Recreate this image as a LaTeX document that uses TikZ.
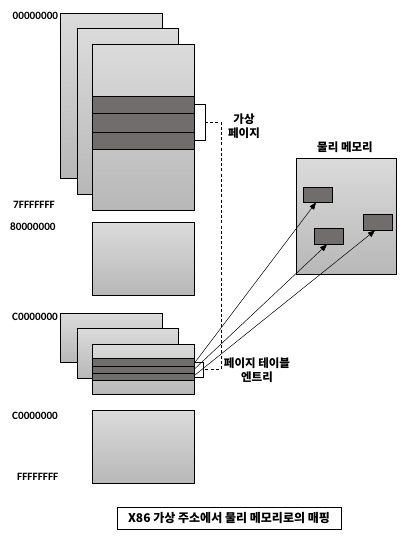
\documentclass[tikz,border=0pt]{standalone}
\usepackage{fontspec}
\setmainfont{Carlito}
\newfontfamily\kr{Noto Sans CJK KR}
\usetikzlibrary{arrows.meta}
\definecolor{darkband}{HTML}{716D6D}
\tikzset{
  page/.style={draw=black, line width=0.9pt, top color=black!14, bottom color=black!28},
  band/.style={draw=black, line width=0.9pt, fill=darkband},
  blk/.style={draw=black, line width=0.9pt, fill=darkband, inner sep=0pt},
  hex/.style={anchor=west, font=\fontsize{11.2}{12}\selectfont\bfseries, inner sep=0pt},
  krlab/.style={font=\kr\fontsize{11.5}{14.5}\selectfont\bfseries, align=center, inner sep=0pt},
  dashline/.style={draw=black, line width=0.8pt, dash pattern=on 3pt off 2.2pt},
  maparrow/.style={draw=black, line width=0.5pt, -{Triangle[length=7pt,width=5.5pt]}}
}
\begin{document}
\begin{tikzpicture}[x=1pt,y=-1pt]
\useasboundingbox (0,0) rectangle (407,541);
% top stack
\draw[page] (60,13) rectangle (162,178);
\draw[page] (77,28) rectangle (178,194);
\draw[page] (92,44) rectangle (194,210);
\draw[band] (92,96) rectangle (194,113);
\draw[band] (92,113) rectangle (194,132);
\draw[band] (92,132) rectangle (194,149);
% bracket
\draw[line width=0.8pt] (194,104) -- (205,104) -- (205,140) -- (194,140);
% 80000000 region
\draw[page] (92,222) rectangle (194,295);
% lower stack
\draw[page] (60,313) rectangle (162,362);
\draw[page] (77,328) rectangle (178,378);
\draw[page] (92,344) rectangle (194,394);
\draw[band] (92,358) rectangle (194,366);
\draw[band] (92,366) rectangle (194,373);
\draw[band] (92,373) rectangle (194,380);
% bottom region
\draw[page] (92,410) rectangle (194,483);
% page table entry box
\node[draw=black, line width=0.7pt, minimum width=9pt, minimum height=15pt, inner sep=0pt] (pte) at (198.5,369.5) {};
% dashed connection
\coordinate (brk) at (205,122);
\coordinate (d1) at (221,122);
\coordinate (d2) at (221,369);
\draw[dashline] (brk) -- (d1) -- (d2) -- (pte.east |- d2);
% physical memory
\node[page, minimum width=100pt, minimum height=116pt, inner sep=0pt] (phys) at (346,216) {};
\node[blk, minimum width=29pt, minimum height=15pt] (b1) at (317.5,194.5) {};
\node[blk, minimum width=29pt, minimum height=16pt] (b2) at (328.5,236) {};
\node[blk, minimum width=29pt, minimum height=16pt] (b3) at (377.5,222) {};
% arrows
\coordinate (o1) at (194.5,363);
\coordinate (o2) at (194.5,369);
\coordinate (o3) at (195,375);
\draw[maparrow] (o1) -- ([xshift=-1.5pt]b1.south);
\draw[maparrow] (o2) -- ([xshift=-1.5pt]b2.south);
\draw[maparrow] (o3) -- ([xshift=-2.5pt]b3.south);
% hex labels
\node[hex] (l1) at (12.5,16) {00000000};
\node[hex] (l2) at (13,205) {7FFFFFFF};
\node[hex] (l3) at (10,227) {80000000};
\node[hex] (l4) at (12,317) {C0000000};
\node[hex] (l5) at (12,416) {C0000000};
\node[hex] (l6) at (17,477) {FFFFFFFF};
% korean labels
\node[krlab] (vp) at (244,126) {가상\\페이지};
\node[krlab] (ptel) at (257,370) {페이지 테이블\\엔트리};
\node[krlab] (pml) at (345,147) {물리 메모리};
% caption
\node[draw=black, line width=0.8pt, minimum width=224pt, minimum height=22pt, inner sep=0pt, font=\kr\fontsize{12}{13}\selectfont\bfseries] (cap) at (229,518) {X86 가상 주소에서 물리 메모리로의 매핑};
\end{tikzpicture}
\end{document}
